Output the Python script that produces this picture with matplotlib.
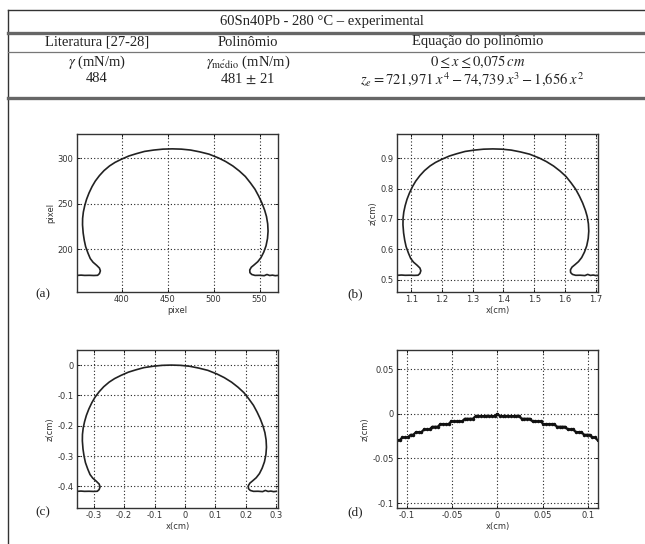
"""
60Sn40Pb drop profile - table + 4 panels
"""

import matplotlib.pyplot as plt
from matplotlib.ticker import FuncFormatter
import numpy as np

plt.rcParams['mathtext.fontset'] = 'stix'

# ---- table text ----
table_title = '60Sn40Pb - 280 °C – experimental'
table_head = ['Literatura [27-28]', 'Polinômio', 'Equação do polinômio']
table_row1 = [r'$\gamma$ (mN/m)', r'$\gamma_{\mathrm{m\acute{e}dio}}$ (mN/m)',
              r'$0 \leq x \leq 0{,}075\,cm$']
table_row2 = ['484', r'481 $\pm$ 21',
              r'$z_e = 721{,}971\;x^4 - 74{,}739\;x^3 - 1{,}656\;x^2$']

# ---- drop profile, pixel units ----
prof_x_px = [351.6, 356, 360, 365, 370, 374, 376, 377, 376, 373, 369, 366, 363.5,
             361, 359.5, 358.3, 357.6, 357.7, 358.5, 360, 362, 364.7, 368, 371.5,
             376, 381, 387, 393, 400, 408, 416, 425, 435, 445, 455, 465, 475, 485,
             495, 505, 513, 521, 528, 534.5, 540, 545, 549, 552.5, 555.5, 557.5,
             558.8, 559.2, 558.6, 557, 554.5, 551.5, 548, 544, 541, 539.3, 539.5,
             541.5, 545, 550, 555, 558, 561, 564, 567, 570]
prof_z_px = [171.5, 171.8, 171.5, 171.6, 171.4, 171.6, 173.5, 176.5, 179.5, 182.5,
             186, 190, 196, 203, 210, 218, 227, 234, 241, 248, 255, 262, 269, 275,
             281, 286.5, 291.6, 295.5, 299, 302.5, 305, 307.5, 309, 310, 310.3, 310,
             309, 307, 304.5, 300.5, 296.5, 291.5, 286, 280, 273, 266, 258.5, 251,
             243, 236, 228, 220, 212, 204, 197, 191, 186.5, 183, 180.5, 177.5, 174.5,
             172.5, 171.5, 171.6, 171.2, 172.5, 171.4, 171.8, 171.2, 171.5]

# calibration and apex used for panels (b) and (c)
cm_per_px = 0.003
apex_x_cm = 1.41
apex_z_cm = 0.9306

# ---- apex points, panel (d) ----
d_x = [-0.114, -0.111, -0.108, -0.105, -0.102, -0.099, -0.096, -0.093, -0.090,
       -0.087, -0.084, -0.081, -0.078, -0.075, -0.072, -0.069, -0.066, -0.063,
       -0.060, -0.057, -0.054, -0.051, -0.048, -0.045, -0.042, -0.039, -0.036,
       -0.033, -0.030, -0.027, -0.024, -0.021, -0.018, -0.015, -0.012, -0.009,
       -0.006, -0.003, 0.0, 0.003, 0.006, 0.009, 0.012, 0.015, 0.018, 0.021,
       0.024, 0.027, 0.030, 0.033, 0.036, 0.039, 0.042, 0.045, 0.048, 0.051,
       0.054, 0.057, 0.060, 0.063, 0.066, 0.069, 0.072, 0.075, 0.078, 0.081,
       0.084, 0.087, 0.090, 0.093, 0.096, 0.099, 0.102, 0.105, 0.108, 0.111,
       0.114]
d_z = [-0.0325, -0.0295, -0.0295, -0.0265, -0.0265, -0.0265, -0.0235, -0.0235,
       -0.0205, -0.0205, -0.0205, -0.0175, -0.0175, -0.0175, -0.0145, -0.0145,
       -0.0145, -0.0115, -0.0115, -0.0115, -0.0115, -0.0085, -0.0085, -0.0085,
       -0.0085, -0.0085, -0.0055, -0.0055, -0.0055, -0.0055, -0.0025, -0.0025,
       -0.0025, -0.0025, -0.0025, -0.0025, -0.0025, -0.0025, 0.0, -0.0025,
       -0.0025, -0.0025, -0.0025, -0.0025, -0.0025, -0.0025, -0.0025, -0.0055,
       -0.0055, -0.0055, -0.0055, -0.0085, -0.0085, -0.0085, -0.0085, -0.0115,
       -0.0115, -0.0115, -0.0115, -0.0115, -0.0145, -0.0145, -0.0145, -0.0145,
       -0.0175, -0.0175, -0.0175, -0.0205, -0.0205, -0.0205, -0.0235, -0.0235,
       -0.0235, -0.0265, -0.0265, -0.0295, -0.0325]

# ---- axis ticks ----
a_xticks = [400, 450, 500, 550]
a_yticks = [200, 250, 300]
b_xticks = [1.1, 1.2, 1.3, 1.4, 1.5, 1.6, 1.7]
b_yticks = [0.5, 0.6, 0.7, 0.8, 0.9]
c_xticks = [-0.3, -0.2, -0.1, 0, 0.1, 0.2, 0.3]
c_yticks = [-0.4, -0.3, -0.2, -0.1, 0]
d_xticks = [-0.1, -0.05, 0, 0.05, 0.1]
d_yticks = [-0.1, -0.05, 0, 0.05]

prof_x_px = np.array(prof_x_px)
prof_z_px = np.array(prof_z_px)
b_x = prof_x_px * cm_per_px
b_z = prof_z_px * cm_per_px
c_x = b_x - apex_x_cm
c_z = b_z - apex_z_cm

fig = plt.figure(figsize=(6.45, 5.44), dpi=100)

# background layer in pixel coordinates for the table and frame
bg = fig.add_axes([0, 0, 1, 1], zorder=0)
bg.set_xlim(0, 645)
bg.set_ylim(544, 0)
bg.axis('off')

bg.plot([8, 645], [10, 10], color='#333333', lw=1.0)
bg.plot([8, 8], [10, 544], color='#333333', lw=1.0)
bg.plot([8, 645], [33, 33], color='#666666', lw=2.4)
bg.plot([8, 645], [52, 52], color='#777777', lw=0.9)
bg.plot([8, 645], [98, 98], color='#666666', lw=2.4)

serif = dict(family='Liberation Serif', color='#222222', ha='center', va='center')
col_x = [97, 248, 478]
bg.text(322, 21, table_title, fontsize=10.5, **serif)
for cx, s in zip(col_x, table_head):
    bg.text(cx, 42, s, fontsize=10.5, **serif)
for cx, s in zip(col_x, table_row1):
    bg.text(cx, 62, s, fontsize=10.5, **serif)
for cx, s in zip([97, 248, 472], table_row2):
    bg.text(cx, 79, s, fontsize=10.5, **serif)

fmt = FuncFormatter(lambda v, p: '%g' % v)


def setup(ax, xt, yt, xlim, ylim, xl, yl):
    ax.set_xlim(xlim)
    ax.set_ylim(ylim)
    ax.set_xticks(xt)
    ax.set_yticks(yt)
    ax.xaxis.set_major_formatter(fmt)
    ax.yaxis.set_major_formatter(fmt)
    ax.grid(True, color='#222222', linestyle=(0, (1, 2)), linewidth=0.8)
    ax.tick_params(direction='in', top=True, right=True, length=2.5, width=0.6,
                   labelsize=6, pad=2.5, labelcolor='#333333')
    for sp in ax.spines.values():
        sp.set_linewidth(1.0)
        sp.set_color('#333333')
    ax.set_xlabel(xl, fontsize=6, color='#333333', labelpad=1)
    ax.set_ylabel(yl, fontsize=6, color='#333333', labelpad=2)


w = 201 / 645
h = 158 / 544
ax_a = fig.add_axes([77 / 645, 1 - 292 / 544, w, h], zorder=1)
ax_b = fig.add_axes([397 / 645, 1 - 292 / 544, w, h], zorder=1)
ax_c = fig.add_axes([77 / 645, 1 - 508 / 544, w, h], zorder=1)
ax_d = fig.add_axes([397 / 645, 1 - 508 / 544, w, h], zorder=1)

ax_a.plot(prof_x_px, prof_z_px, color='#222222', lw=1.2)
setup(ax_a, a_xticks, a_yticks, (351.6, 570), (153.3, 326.6), 'pixel', 'pixel')

ax_b.plot(b_x, b_z, color='#222222', lw=1.2)
setup(ax_b, b_xticks, b_yticks, (1.0534, 1.7076), (0.4595, 0.98), 'x(cm)', 'z(cm)')

ax_c.plot(c_x, c_z, color='#222222', lw=1.2)
setup(ax_c, c_xticks, c_yticks, (-0.3548, 0.3055), (-0.471, 0.050), 'x(cm)', 'z(cm)')

ax_d.plot(d_x, d_z, '.-', color='#111111', lw=1.6, markersize=3)
setup(ax_d, d_xticks, d_yticks, (-0.111, 0.1114), (-0.1056, 0.0716), 'x(cm)', 'z(cm)')

panel_tags = ['(a)', '(b)', '(c)', '(d)']
tag_pos = [(43, 294), (355, 294), (43, 512), (355, 512)]
for t, (px, py) in zip(panel_tags, tag_pos):
    bg.text(px, py, t, fontsize=9.5, **serif)

fig.savefig('out.png', dpi=100)
plt.close(fig)
